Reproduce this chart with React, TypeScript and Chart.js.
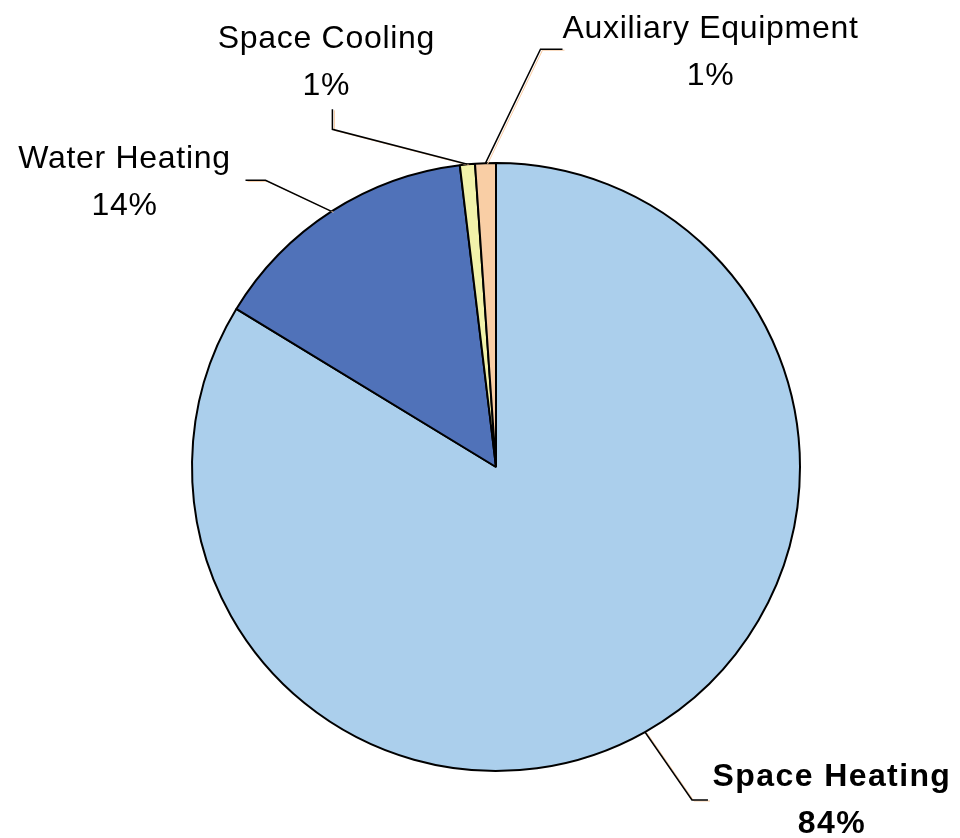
import React, { useEffect, useRef } from "react";
import { Chart, registerables } from "chart.js";

Chart.register(...registerables);

const categories = ["Space Heating", "Water Heating", "Space Cooling", "Auxiliary Equipment"];
const values = [83.7, 14.4, 0.8, 1.1];
const colors = ["#ABCFEC", "#5072B9", "#F2F2AA", "#F9CEA5"];
const boldLabel = [true, false, false, false];
// leader layout: elbow offset from slice edge, tail length, text anchor offset from tail end
const elbowOffsets = [[47, 68], [-66, -31], [-135, -35], [55, -114]];
const tailOffsets = [[16, 0], [-20, 0], [0, -20], [22, 0]];
const textOffsets = [[124, -14], [-121, -12], [-6, -61], [148, -11]];

const leaderPlugin = {
  id: "leaders",
  afterDatasetsDraw(chart: any) {
    const ctx = chart.ctx;
    const meta = chart.getDatasetMeta(0);
    const total = values.reduce((a, b) => a + b, 0);
    meta.data.forEach((arc: any, i: number) => {
      const { x, y, startAngle, endAngle, outerRadius } = arc.getProps(
        ["x", "y", "startAngle", "endAngle", "outerRadius"],
        true
      );
      const mid = (startAngle + endAngle) / 2;
      const sx = x + Math.cos(mid) * outerRadius;
      const sy = y + Math.sin(mid) * outerRadius;
      const ex = sx + elbowOffsets[i][0];
      const ey = sy + elbowOffsets[i][1];
      const tx = ex + tailOffsets[i][0];
      const ty = ey + tailOffsets[i][1];
      ctx.save();
      // faint shadow line
      ctx.strokeStyle = "#F7C9A0";
      ctx.lineWidth = 1;
      ctx.beginPath();
      ctx.moveTo(sx + 2, sy + 1);
      ctx.lineTo(ex + 2, ey + 1);
      ctx.lineTo(tx + 2, ty + 1);
      ctx.stroke();
      ctx.strokeStyle = "#000";
      ctx.lineWidth = 1.5;
      ctx.beginPath();
      ctx.moveTo(sx, sy);
      ctx.lineTo(ex, ey);
      ctx.lineTo(tx, ty);
      ctx.stroke();
      const cx = tx + textOffsets[i][0];
      const cy = ty + textOffsets[i][1];
      const bold = boldLabel[i];
      ctx.fillStyle = "#000";
      ctx.textAlign = "center";
      ctx.textBaseline = "alphabetic";
      ctx.font = (bold ? "bold " : "") + "32px 'Liberation Sans', Arial, sans-serif";
      (ctx as any).letterSpacing = bold ? "1.4px" : "0.7px";
      const pct = Math.round((values[i] / total) * 100) + "%";
      ctx.fillText(categories[i], cx, cy);
      ctx.fillText(pct, cx, cy + 47);
      ctx.restore();
    });
  },
};

export default function App() {
  const ref = useRef<HTMLCanvasElement>(null);
  useEffect(() => {
    if (!ref.current) return;
    const chart = new Chart(ref.current, {
      type: "pie",
      data: {
        labels: categories,
        datasets: [
          {
            data: values,
            backgroundColor: colors,
            borderColor: "#000",
            borderWidth: 2,
          },
        ],
      },
      options: {
        animation: false,
        responsive: true,
        maintainAspectRatio: false,
        layout: { padding: { left: 191, right: 159, top: 162, bottom: 66 } },
        plugins: { legend: { display: false }, tooltip: { enabled: false } },
      },
      plugins: [leaderPlugin],
    });
    return () => chart.destroy();
  }, []);
  return (
    <div style={{ position: "fixed", left: 0, top: 0, width: 960, height: 838, background: "#fff" }}>
      <canvas ref={ref} />
    </div>
  );
}
